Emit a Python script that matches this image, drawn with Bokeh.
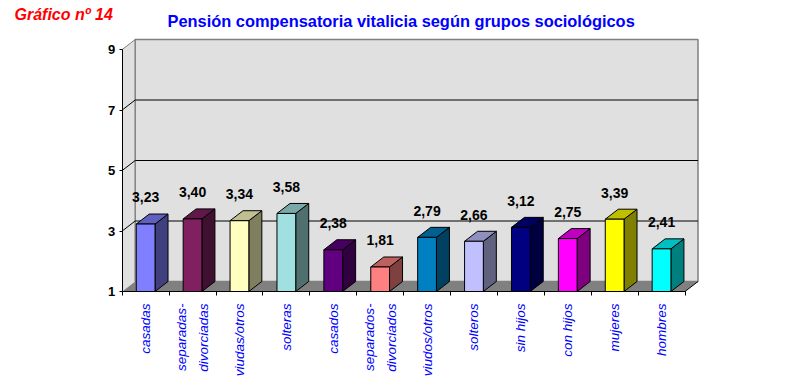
import math
from bokeh.plotting import figure
from bokeh.models import Range1d, FixedTicker, Label, ColumnDataSource
from bokeh.core.properties import value
from bokeh.embed import file_html
from bokeh.resources import INLINE

# ---- data ----
categories = ["casadas", "separadas-\ndivorciadas", "viudas/otros", "solteras",
              "casados", "separados-\ndivorciados", "viudos/otros", "solteros",
              "sin hijos", "con hijos", "mujeres", "hombres"]
values = [3.23, 3.40, 3.34, 3.58, 2.38, 1.81, 2.79, 2.66, 3.12, 2.75, 3.39, 2.41]
y_ticks = [1, 3, 5, 7, 9]
bar_colors = ["#8080FF", "#802060", "#FFFFC0", "#A0E0E0", "#600080", "#FF8080",
              "#0080C0", "#C0C0FF", "#000080", "#FF00FF", "#FFFF00", "#00FFFF"]
title_text = "Pensión compensatoria vitalicia según grupos sociológicos"
chart_no = "Gráfico nº 14"

# ---- geometry ----
W, H = 801, 383
X0, Y0 = 121.7, 291.0   # canvas px of the front-bottom-left corner
XU = 46.9    # px per category
YU = 30.25   # px per value unit
DX = 13 / XU
DY = 10 / YU
n = len(values)
ymin, ymax = y_ticks[0], y_ticks[-1]

p = figure(width=W, height=H, output_backend="svg", toolbar_location=None,
           x_range=Range1d(-X0 / XU, (W - X0) / XU),
           y_range=Range1d(ymin - (H - Y0) / YU, ymin + Y0 / YU),
           min_border=0)
p.outline_line_color = None
p.xgrid.visible = False
p.ygrid.visible = False
p.background_fill_color = "white"
p.border_fill_color = "white"


def px2x(px):
    return (px - X0) / XU


def py2y(py):
    return ymin + (Y0 - py) / YU


WALL = "#E0E0E0"
EDGE = "#808080"
FLOOR = "#808080"

# side wall and back wall
p.patch([0, DX, DX, 0], [ymin, ymin + DY, ymax + DY, ymax],
        fill_color=WALL, line_color=None)
p.quad(left=[DX], right=[n + DX], bottom=[ymin + DY], top=[ymax + DY],
       fill_color=WALL, line_color=EDGE, line_width=1.5)

# gridlines
grid_vals = [v for v in y_ticks if ymin < v < ymax]
p.segment(x0=[0] * len(grid_vals), y0=grid_vals, x1=[DX] * len(grid_vals),
          y1=[v + DY for v in grid_vals], line_color="black", line_width=1)
p.segment(x0=[DX] * len(grid_vals), y0=[v + DY for v in grid_vals],
          x1=[n + DX] * len(grid_vals), y1=[v + DY for v in grid_vals],
          line_color="black", line_width=1)
p.segment(x0=[0], y0=[ymax], x1=[DX], y1=[ymax + DY], line_color=EDGE, line_width=1)

# floor
p.patch([0, n, n + DX, DX], [ymin, ymin, ymin + DY, ymin + DY],
        fill_color=FLOOR, line_color=None)
p.segment(x0=[n], y0=[ymin], x1=[n + DX], y1=[ymin + DY], line_color="black", line_width=1)


def shade(hexcol, f):
    r, g, b = int(hexcol[1:3], 16), int(hexcol[3:5], 16), int(hexcol[5:7], 16)
    return "#%02x%02x%02x" % (int(r * f), int(g * f), int(b * f))


hw = 0.2
centers = [i + 0.5 for i in range(n)]
side_xs, side_ys, top_xs, top_ys = [], [], [], []
for c, v in zip(centers, values):
    side_xs.append([c + hw, c + hw + DX, c + hw + DX, c + hw])
    side_ys.append([ymin, ymin + DY, v + DY, v])
    top_xs.append([c - hw, c + hw, c + hw + DX, c - hw + DX])
    top_ys.append([v, v, v + DY, v + DY])

p.patches(xs=side_xs, ys=side_ys, fill_color=[shade(c, 0.5) for c in bar_colors],
          line_color="black", line_width=1)
p.patches(xs=top_xs, ys=top_ys, fill_color=[shade(c, 0.75) for c in bar_colors],
          line_color="black", line_width=1)
p.quad(left=[c - hw for c in centers], right=[c + hw for c in centers],
       bottom=[ymin] * n, top=values, fill_color=bar_colors,
       line_color="black", line_width=1)

# value labels
lab_src = ColumnDataSource(dict(x=centers, y=[v + 0.88 for v in values],
                                t=[("%.2f" % v).replace(".", ",") for v in values]))
p.text(x="x", y="y", text="t", source=lab_src, text_font=value("Liberation Sans"),
       text_font_style="bold", text_font_size="14px", text_color="black",
       text_align="center", text_baseline="middle")

# axes drawn inside the frame at the front plane
ya = p.yaxis[0]
ya.fixed_location = 0
ya.ticker = FixedTicker(ticks=y_ticks, minor_ticks=[])
ya.bounds = (ymin, ymax)
ya.axis_line_color = "black"
ya.major_tick_out = 3
ya.major_tick_in = 0
ya.minor_tick_out = 0
ya.minor_tick_in = 0
ya.major_label_text_font = "Liberation Sans"
ya.major_label_text_font_style = "bold"
ya.major_label_text_font_size = "13px"
ya.major_label_text_color = "black"
ya.major_label_standoff = 4

xa = p.xaxis[0]
xa.fixed_location = ymin
xa.ticker = FixedTicker(ticks=centers, minor_ticks=list(range(n + 1)))
xa.bounds = (0, n)
xa.axis_line_color = "black"
xa.major_tick_out = 0
xa.major_tick_in = 0
xa.minor_tick_out = 4
xa.minor_tick_in = 0
xa.minor_tick_line_color = "black"
xa.major_label_overrides = {c: lab for c, lab in zip(centers, categories)}
xa.major_label_orientation = math.pi / 2
xa.major_label_text_font = "Liberation Sans"
xa.major_label_text_font_style = "italic"
xa.major_label_text_font_size = "13.5px"
xa.major_label_text_line_height = 1.45
xa.major_label_text_color = "#0000FF"
xa.major_label_standoff = 8

# titles
p.add_layout(Label(x=px2x(167), y=py2y(20), text=title_text, text_align="left",
                   text_baseline="alphabetic", text_font="Liberation Sans",
                   text_font_style="bold", text_font_size="16.4px", text_color="#0000FF"))
p.add_layout(Label(x=px2x(14), y=py2y(14), text=chart_no, text_align="left",
                   text_baseline="alphabetic", text_font="Liberation Sans",
                   text_font_style="bold italic", text_font_size="16px",
                   text_color="#FF0000"))

open("out.html", "w").write(file_html(p, INLINE))
